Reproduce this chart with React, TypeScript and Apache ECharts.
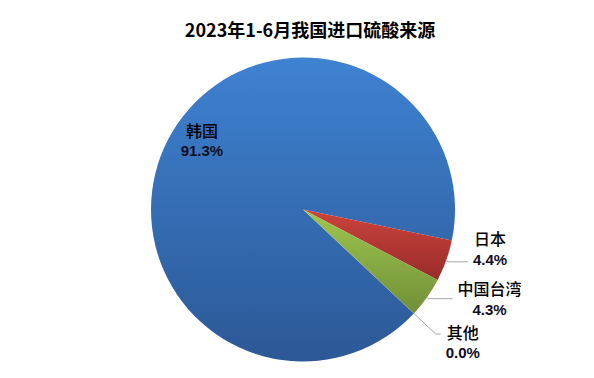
import React, { useEffect, useRef } from "react";
import * as echarts from "echarts";

const titleText = "2023年1-6月我国进口硫酸来源";
const categories = ["韩国", "日本", "中国台湾", "其他"];
const shares = [91.3, 4.4, 4.3, 0.02];
const topColors = ["#3e82d2", "#cc433e", "#a0c650", "#7f9fd0"];
const bottomColors = ["#2c5896", "#982c29", "#718f37", "#4a6ea8"];

export default function App() {
  const ref = useRef<HTMLDivElement>(null);
  useEffect(() => {
    if (!ref.current) return;
    const chart = echarts.init(ref.current, null, { renderer: "svg" });
    const lineLens = [
      { length: 3, length2: 19 },
      { length: 3, length2: 19 },
      { length: 2, length2: 24 },
      { length: 30, length2: 5 },
    ];
    const offsets = [
      { dx: -31, dy: -33 },
      { dx: 0, dy: -13 },
      { dx: 0, dy: 0 },
      { dx: 0, dy: 8 },
    ];
    chart.setOption({
      animation: false,
      backgroundColor: "#ffffff",
      title: {
        text: titleText,
        left: 305,
        textAlign: "center",
        top: 15,
        textStyle: {
          fontFamily: "Noto Sans CJK SC",
          fontWeight: "bold",
          fontSize: 18,
          color: "#000000",
        },
      },
      series: [
        {
          type: "pie",
          center: [303, 209.5],
          radius: 152,
          startAngle: -43.2,
          clockwise: true,
          avoidLabelOverlap: false,
          minShowLabelAngle: 0,
          label: {
            show: true,
            position: "outside",
            formatter: (p: any) => `{n|${p.name}}\n{p|${Number(p.value).toFixed(1)}%}`,
            rich: {
              n: {
                fontFamily: "Noto Sans CJK SC",
                fontWeight: 500,
                fontSize: 16,
                color: "#000000",
                lineHeight: 21,
                align: "center",
              },
              p: {
                fontFamily: "Liberation Sans",
                fontWeight: "bold",
                fontSize: 15,
                color: "#0e0e24",
                lineHeight: 21,
                align: "center",
              },
            },
          },
          labelLine: {
            show: true,
            length: 3,
            length2: 19,
            lineStyle: { color: "#a6a6a6", width: 1 },
          },
          labelLayout: (params: any) => {
            const o = offsets[params.dataIndex];
            const res: any = { dx: o.dx, dy: o.dy };
            if (params.labelLinePoints) res.labelLinePoints = params.labelLinePoints;
            return res;
          },
          data: categories.map((name, i) => ({
            name,
            value: shares[i],
            label: i === 0 ? { position: "inside" } : undefined,
            labelLine: i === 0 ? { show: false } : lineLens[i],
            itemStyle: {
              color: new echarts.graphic.LinearGradient(0, 0, 0, 1, [
                { offset: 0, color: topColors[i] },
                { offset: 1, color: bottomColors[i] },
              ]),
              borderWidth: 0,
            },
          })),
        },
      ],
    });
    return () => chart.dispose();
  }, []);
  return (
    <div
      ref={ref}
      style={{ position: "fixed", left: 0, top: 0, width: 594, height: 378 }}
    />
  );
}
